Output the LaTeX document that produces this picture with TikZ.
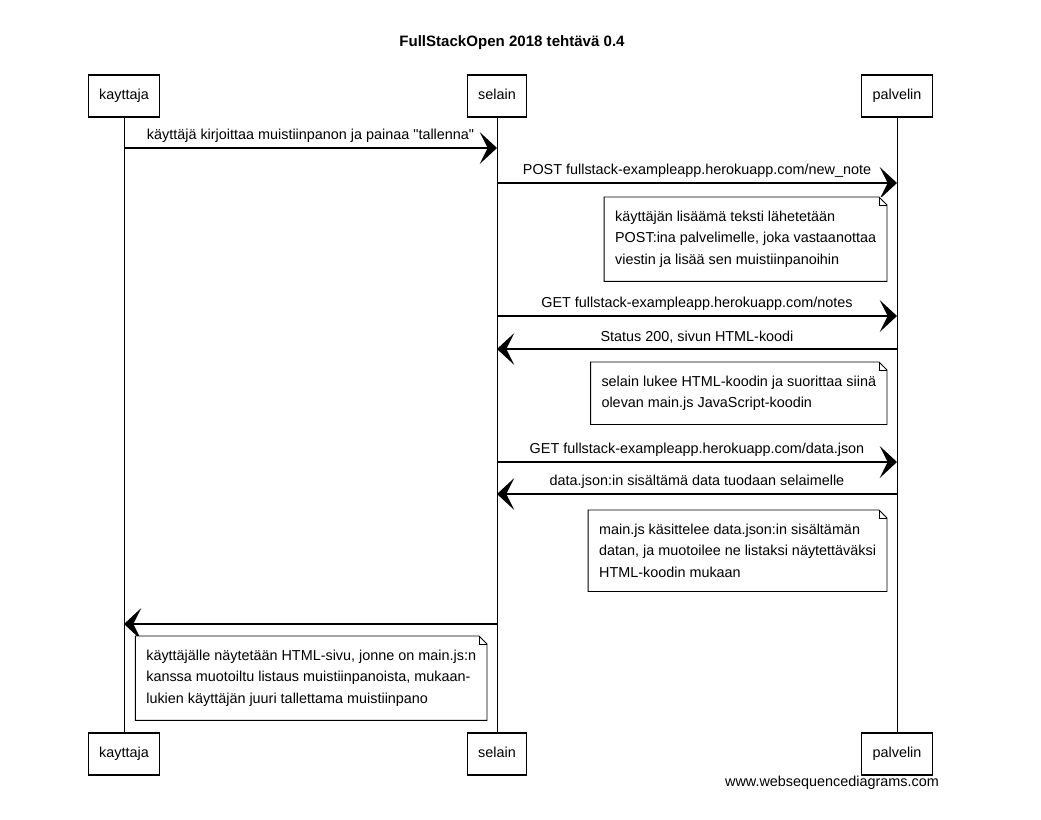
\documentclass[tikz,border=0pt]{standalone}
\usepackage{fontspec}
\setmainfont{Liberation Sans}
\usetikzlibrary{arrows.meta,positioning}
\newcommand{\txt}{\fontsize{10.8}{12}\selectfont}
\tikzset{
    actor/.style={draw,line width=0.8pt,fill=white,minimum height=31.5pt,text height=8pt,text depth=2.5pt,inner xsep=8pt,font=\txt},
    life/.style={draw,line width=0.6pt},
    msg/.style={draw,line width=1pt,-{Stealth[length=13pt,width=24pt,inset=6pt]}},
    lbl/.style={above,inner sep=4pt,font=\txt},
    note/.style={anchor=north east,align=left,fill=white,inner xsep=8pt,inner ysep=10pt,font=\fontsize{10.8}{16.4}\selectfont},
}

\begin{document}
\begin{tikzpicture}[x=0.75pt,y=-0.75pt]
    \useasboundingbox[fill=white] (0,0) rectangle (1041,819);
    \node[font=\bfseries\fontsize{11.3}{13}\selectfont] (title) at (512,43) {FullStackOpen 2018 tehtävä 0.4};

    % osallistujat
    \node[actor] (kt) at (124,96) {kayttaja};
    \node[actor] (st) at (497,96) {selain};
    \node[actor] (pt) at (897,96) {palvelin};
    \node[actor] (kb) at (124,754) {kayttaja};
    \node[actor] (sb) at (497,754) {selain};
    \node[actor] (pb) at (897,754) {palvelin};
    \path (kt) edge[life] (kb) (st) edge[life] (sb) (pt) edge[life] (pb);

    % viestien korkeudet
    \coordinate (y1) at (0,148);
    \coordinate (y2) at (0,183);
    \coordinate (y3) at (0,316);
    \coordinate (y4) at (0,349);
    \coordinate (y5) at (0,462);
    \coordinate (y6) at (0,494);
    \coordinate (y7) at (0,624);

    \draw[msg] (kt |- y1) -- node[lbl] {käyttäjä kirjoittaa muistiinpanon ja painaa \textquotedbl tallenna\textquotedbl} (st |- y1);
    \draw[msg] (st |- y2) -- node[lbl] {POST fullstack-exampleapp.herokuapp.com/new\_note} (pt |- y2);
    \draw[msg] (st |- y3) -- node[lbl] {GET fullstack-exampleapp.herokuapp.com/notes} (pt |- y3);
    \draw[msg] (pt |- y4) -- node[lbl] {Status 200, sivun HTML-koodi} (st |- y4);
    \draw[msg] (st |- y5) -- node[lbl] {GET fullstack-exampleapp.herokuapp.com/data.json} (pt |- y5);
    \draw[msg] (pt |- y6) -- node[lbl] {data.json:in sisältämä data tuodaan selaimelle} (st |- y6);
    \draw[msg] (st |- y7) -- (kt |- y7);

    % huomautukset
    \node[note] (n1) at (887,197) {käyttäjän lisäämä teksti lähetetään\\POST:ina palvelimelle, joka vastaanottaa\\viestin ja lisää sen muistiinpanoihin};
    \node[note] (n2) at (887,362) {selain lukee HTML-koodin ja suorittaa siinä\\olevan main.js JavaScript-koodin};
    \node[note] (n3) at (887,510) {main.js käsittelee data.json:in sisältämän\\datan, ja muotoilee ne listaksi näytettäväksi\\HTML-koodin mukaan};
    \node[note] (n4) at (487,636) {käyttäjälle näytetään HTML-sivu, jonne on main.js:n\\kanssa muotoiltu listaus muistiinpanoista, mukaan-\\lukien käyttäjän juuri tallettama muistiinpano};
    \foreach \n in {n1,n2,n3,n4} {
        \draw[line width=0.7pt] (\n.south west) -- (\n.north west) -- ([xshift=-6pt]\n.north east)
            -- ([yshift=-6pt]\n.north east) -- (\n.south east) -- cycle;
        \draw[line width=0.6pt] ([xshift=-6pt]\n.north east) -- ([xshift=-6pt,yshift=-6pt]\n.north east)
            -- ([yshift=-6pt]\n.north east);
    }

    \node[font=\txt] (wsd) at (832,783) {www.websequencediagrams.com};
\end{tikzpicture}
\end{document}
